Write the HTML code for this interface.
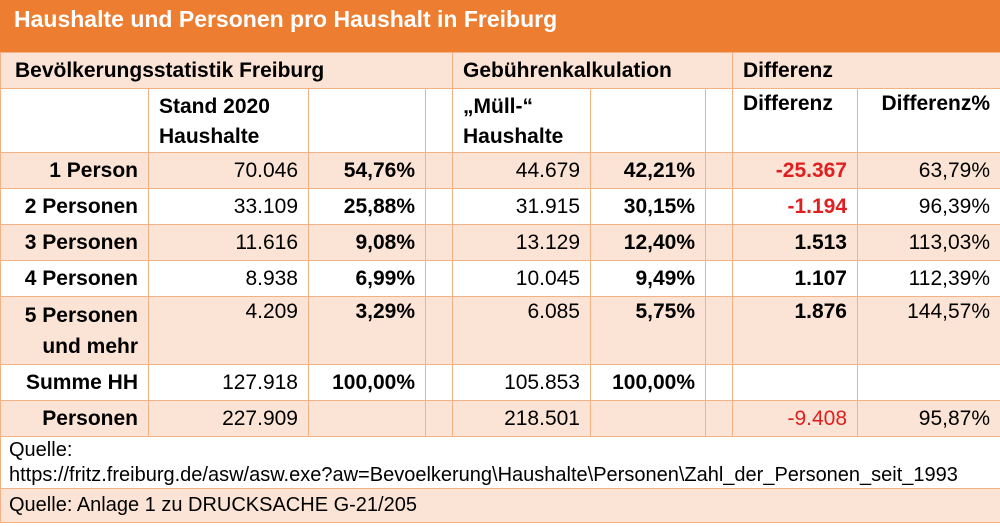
<!DOCTYPE html>
<html><head><meta charset="utf-8">
<style>
body{margin:0;width:1000px;height:527px;overflow:hidden;background:#fff;font-family:"Liberation Sans",sans-serif;}
#title{position:absolute;left:0;top:0;width:1000px;height:52px;background:#ED7D31;color:#fff;font-weight:bold;font-size:23px;line-height:38px;padding-left:14px;box-sizing:border-box;}
table{position:absolute;left:0;top:52px;border-collapse:collapse;table-layout:fixed;width:1000px;font-size:21px;}
td{border:1px solid #F4B183;padding:0 10px;overflow:hidden;white-space:nowrap;box-sizing:border-box;color:#000;}
.p td{background:#FBE4D5;}
.b{font-weight:bold;}
.r{text-align:right;}
.red{color:#E02020;}
.h td{height:36px;}
.src{font-size:20px;}
</style></head><body>
<div id="title">Haushalte und Personen pro Haushalt in Freiburg</div>
<table>
<colgroup><col style="width:148px"><col style="width:160px"><col style="width:117px"><col style="width:27px"><col style="width:138px"><col style="width:115px"><col style="width:27px"><col style="width:125px"><col style="width:143px"></colgroup>
<tr class="p h"><td colspan="4" class="b" style="padding-left:14px">Bevölkerungsstatistik Freiburg</td><td colspan="3" class="b">Gebührenkalkulation</td><td colspan="2" class="b">Differenz</td></tr>
<tr style="height:64px;vertical-align:top"><td></td><td class="b" style="padding-top:3px;line-height:30px">Stand 2020<br>Haushalte</td><td></td><td></td><td class="b" style="padding-top:3px;line-height:30px">„Müll-“<br>Haushalte</td><td></td><td></td><td class="b" style="padding-top:3px">Differenz</td><td class="b r" style="padding-top:3px">Differenz%</td></tr>
<tr class="p h"><td class="b r">1 Person</td><td class="r">70.046</td><td class="b r">54,76%</td><td></td><td class="r">44.679</td><td class="b r">42,21%</td><td></td><td class="b r red">-25.367</td><td class="r">63,79%</td></tr>
<tr class="h"><td class="b r">2 Personen</td><td class="r">33.109</td><td class="b r">25,88%</td><td></td><td class="r">31.915</td><td class="b r">30,15%</td><td></td><td class="b r red">-1.194</td><td class="r">96,39%</td></tr>
<tr class="p h"><td class="b r">3 Personen</td><td class="r">11.616</td><td class="b r">9,08%</td><td></td><td class="r">13.129</td><td class="b r">12,40%</td><td></td><td class="b r">1.513</td><td class="r">113,03%</td></tr>
<tr class="h"><td class="b r">4 Personen</td><td class="r">8.938</td><td class="b r">6,99%</td><td></td><td class="r">10.045</td><td class="b r">9,49%</td><td></td><td class="b r">1.107</td><td class="r">112,39%</td></tr>
<tr class="p" style="height:68px;vertical-align:top"><td class="b r" style="padding-top:3px;line-height:31px">5 Personen<br>und mehr</td><td class="r" style="padding-top:3px">4.209</td><td class="b r" style="padding-top:3px">3,29%</td><td></td><td class="r" style="padding-top:3px">6.085</td><td class="b r" style="padding-top:3px">5,75%</td><td></td><td class="b r" style="padding-top:3px">1.876</td><td class="r" style="padding-top:3px">144,57%</td></tr>
<tr class="h"><td class="b r">Summe HH</td><td class="r">127.918</td><td class="b r">100,00%</td><td></td><td class="r">105.853</td><td class="b r">100,00%</td><td></td><td></td><td></td></tr>
<tr class="p h"><td class="b r">Personen</td><td class="r">227.909</td><td></td><td></td><td class="r">218.501</td><td></td><td></td><td class="r red">-9.408</td><td class="r">95,87%</td></tr>
<tr style="height:52px"><td colspan="9" class="src" style="padding-left:8px;line-height:25px">Quelle:<br>https://fritz.freiburg.de/asw/asw.exe?aw=Bevoelkerung\Haushalte\Personen\Zahl_der_Personen_seit_1993</td></tr>
<tr class="p" style="height:34px"><td colspan="9" class="src" style="padding-left:8px">Quelle: Anlage 1 zu DRUCKSACHE G-21/205</td></tr>
</table>
</body></html>
